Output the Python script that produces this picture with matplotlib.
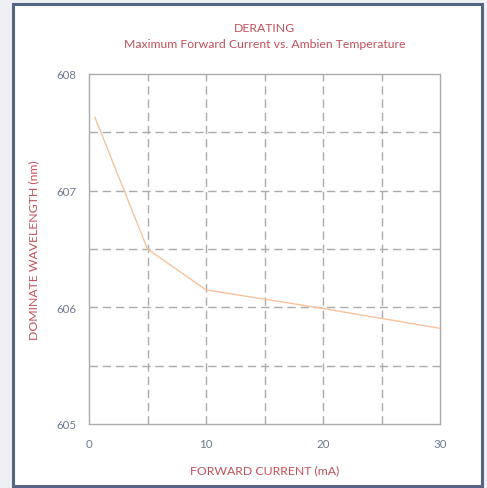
import matplotlib
matplotlib.use("Agg")
import matplotlib.pyplot as plt
from matplotlib.patches import Rectangle

# Forward current (mA) vs. dominant wavelength (nm)
current_ma = [0.5, 5, 10, 15, 20, 25, 30]
wavelength_nm = [607.63, 606.5, 606.15, 606.07, 605.99, 605.905, 605.82]

x_ticks = [0, 10, 20, 30]
y_ticks = [605, 606, 607, 608]
x_grid = [5, 10, 15, 20, 25]
y_grid = [605.5, 606, 606.5, 607, 607.5]

title_main = "DERATING"
title_sub = "Maximum Forward Current vs. Ambien Temperature"
x_label = "FORWARD CURRENT (mA)"
y_label = "DOMINATE WAVELENGTH (nm)"

red = "#c6505a"
tick_color = "#6f7891"
grid_color = "#ababab"
line_color = "#f8c29c"

plt.rcParams["font.family"] = ["Lato", "DejaVu Sans"]

fig = plt.figure(figsize=(4.87, 4.89), dpi=100)
fig.patch.set_facecolor("#eef0f4")

# white panel with a slate border
panel = Rectangle((13 / 487, 1 - 487 / 489), (482 - 13) / 487, (487 - 5) / 489,
                  transform=fig.transFigure, facecolor="white",
                  edgecolor="#566584", linewidth=2.2, zorder=-1)
fig.patches.append(panel)

ax = fig.add_axes([89 / 487, 1 - 425 / 489, (440 - 89) / 487, (425 - 75) / 489])
ax.set_zorder(1)
ax.set_facecolor("white")

ax.plot(current_ma, wavelength_nm, color=line_color, linewidth=1.0, zorder=3)

ax.set_xlim(0, 30)
ax.set_ylim(605, 608)
ax.set_xticks(x_ticks)
ax.set_yticks(y_ticks)
ax.set_xticklabels([str(v) for v in x_ticks])
ax.set_yticklabels([str(v) for v in y_ticks])
ax.tick_params(length=0, labelsize=8.3, colors=tick_color)
ax.tick_params(axis="y", pad=9)
ax.tick_params(axis="x", pad=10)

for v in x_grid:
    ax.axvline(v, color=grid_color, linewidth=1.0, dashes=(6, 3.5), zorder=1)
for v in y_grid:
    ax.axhline(v, color=grid_color, linewidth=1.0, dashes=(6, 3.5), zorder=1)

for s in ax.spines.values():
    s.set_color(grid_color)
    s.set_linewidth(1.0)

ax.set_xlabel(x_label, color=red, fontsize=8.8, labelpad=11)
ax.set_ylabel(y_label, color=red, fontsize=8.8, labelpad=12)

fig.text(0.5435, 1 - 28 / 489, title_main, color=red, fontsize=8.8,
         ha="center", va="center")
fig.text(0.5435, 1 - 44 / 489, title_sub, color=red, fontsize=8.8,
         ha="center", va="center")

fig.savefig("out.png", dpi=100, facecolor=fig.get_facecolor())
